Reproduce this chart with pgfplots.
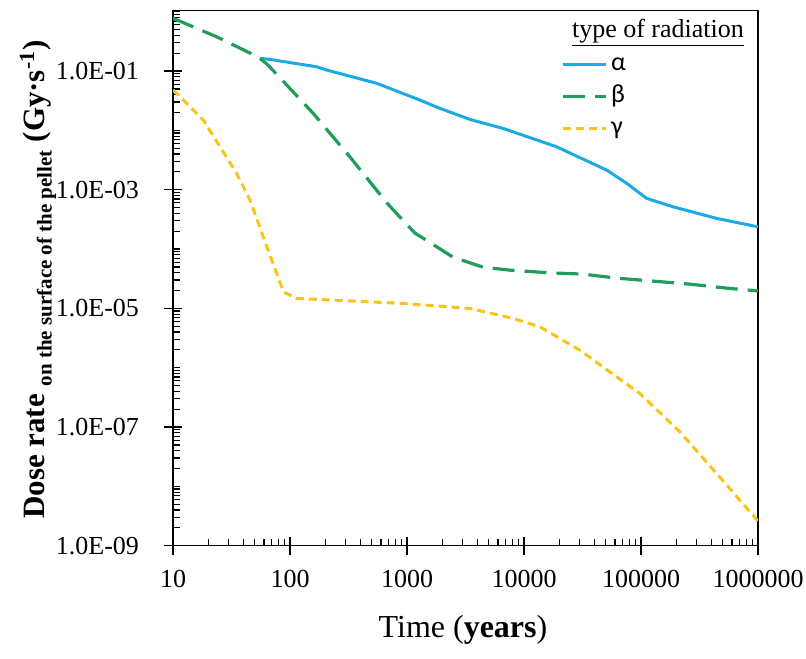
\documentclass[border=0pt]{standalone}
\usepackage{fontspec}
\setmainfont{Liberation Serif}
\newfontfamily\carlito{Carlito}
\usepackage{pgfplots}
\pgfplotsset{compat=1.18}
\definecolor{alphablue}{RGB}{27,170,228}
\definecolor{betagreen}{RGB}{30,158,90}
\definecolor{gammagold}{RGB}{250,195,25}

\begin{document}
\begin{tikzpicture}
\begin{axis}[
  scale only axis,
  width=292.5pt, height=267.5pt,
  xmode=log, ymode=log,
  xmin=10, xmax=1000000,
  ymin=1e-9, ymax=1.04,
  axis line style={line width=0.7pt},
  xtick pos=left, ytick pos=left,
  % small inward ticks (no labels)
  xtick={20,30,40,50,60,70,80,90,200,300,400,500,600,700,800,900,
    2000,3000,4000,5000,6000,7000,8000,9000,
    20000,30000,40000,50000,60000,70000,80000,90000,
    200000,300000,400000,500000,600000,700000,800000,900000},
  ytick={2e-9,3e-9,4e-9,5e-9,6e-9,7e-9,8e-9,9e-9,1e-8,
    2e-8,3e-8,4e-8,5e-8,6e-8,7e-8,8e-8,9e-8,
    2e-7,3e-7,4e-7,5e-7,6e-7,7e-7,8e-7,9e-7,1e-6,
    2e-6,3e-6,4e-6,5e-6,6e-6,7e-6,8e-6,9e-6,
    2e-5,3e-5,4e-5,5e-5,6e-5,7e-5,8e-5,9e-5,1e-4,
    2e-4,3e-4,4e-4,5e-4,6e-4,7e-4,8e-4,9e-4,
    2e-3,3e-3,4e-3,5e-3,6e-3,7e-3,8e-3,9e-3,1e-2,
    2e-2,3e-2,4e-2,5e-2,6e-2,7e-2,8e-2,9e-2,
    2e-1,3e-1,4e-1,5e-1,6e-1,7e-1,8e-1,9e-1,1},
  xticklabel={\mbox{}}, yticklabel={\mbox{}},
  tick align=inside,
  major tick length=3.5pt,
  % labelled ticks
  extra x ticks={10,100,1000,10000,100000,1000000},
  extra x tick labels={10,100,1000,10000,100000,1000000},
  extra y ticks={1e-9,1e-7,1e-5,1e-3,1e-1},
  extra y tick labels={1.0E-09,1.0E-07,1.0E-05,1.0E-03,1.0E-01},
  extra tick style={tick align=center, major tick length=9pt},
  every tick/.style={black, line width=0.6pt},
  tick label style={font=\fontsize{13}{15}\selectfont},
  xticklabel style={yshift=-4pt},
  yticklabel style={xshift=-9pt},
  legend style={draw=none, fill=none, at={(rel axis cs:0.664,0.928)},
    anchor=north west, inner sep=0pt, row sep=1pt,
    font=\carlito\fontsize{13}{15}\selectfont,
    nodes={inner sep=1.5pt, text height=9pt, text depth=3pt}},
  legend cell align=left,
  legend image code/.code={\draw[#1] (0pt,0pt) -- (21.5pt,0pt);},
]
\addplot[alphablue, line width=1.5pt] coordinates {
  (55.5,0.164) (67.5,0.157) (169,0.118) (206,0.104) (551,0.0621)
  (1290,0.0324) (1910,0.0235) (3450,0.0153) (6620,0.0108) (19000,5.29e-3)
  (50900,2.14e-3) (75500,1.28e-3) (112000,7.13e-4) (188000,5.15e-4)
  (444000,3.28e-4) (1000000,2.37e-4)
};
\addlegendentry{α}
\addplot[betagreen, line width=1.6pt, dash pattern=on 11pt off 5pt] coordinates {
  (10,0.775) (23.6,0.378) (45.5,0.201) (55.5,0.164) (64.9,0.126)
  (157,0.0196) (326,3.55e-3) (675,5.94e-4) (871,3.45e-4) (1170,1.85e-4)
  (1370,1.53e-4) (2470,7.3e-5) (4460,4.95e-5) (7590,4.41e-5)
  (16700,3.97e-5) (31900,3.78e-5) (62300,3.23e-5) (127000,2.88e-5)
  (262000,2.56e-5) (543000,2.19e-5) (1000000,1.97e-5)
};
\addlegendentry{β}
\addplot[gammagold, line width=1.5pt, dash pattern=on 4pt off 2.5pt] coordinates {
  (10,0.0478) (10.75,0.0421) (18.2,0.0149) (25.2,5.30e-3) (35.0,1.88e-3)
  (45.5,6.68e-4) (59.1,1.61e-4) (76.9,3.88e-5) (87.7,1.90e-5)
  (114,1.47e-5) (251,1.37e-5) (929,1.21e-5) (3450,9.96e-6)
  (8110,6.76e-6) (13700,4.88e-6) (30100,1.97e-6) (62000,7.0e-7)
  (98000,3.67e-7) (215000,8.27e-8) (444000,1.64e-8) (1000000,2.6e-9)
};
\addlegendentry{γ}
\end{axis}
\node[anchor=base west, font=\fontsize{13}{15}\selectfont] at (196pt,254.3pt)
  {\underline{type of radiation}};
\node[anchor=center, font=\fontsize{16}{19}\selectfont] at (145pt,-42pt)
  {Time (\textbf{years})};
\node[rotate=90, anchor=center] at (-67.5pt,133pt)
  {\bfseries\fontsize{15.5}{18}\selectfont Dose rate
   \raisebox{-3.5pt}{\fontsize{10.5}{12}\selectfont on the surface of the pellet}
   (Gy·s\textsuperscript{-1})};
\pgfresetboundingbox
\path[use as bounding box] (-86.5pt,-56.15pt) rectangle (316.5pt,272.85pt);
\end{tikzpicture}
\end{document}
